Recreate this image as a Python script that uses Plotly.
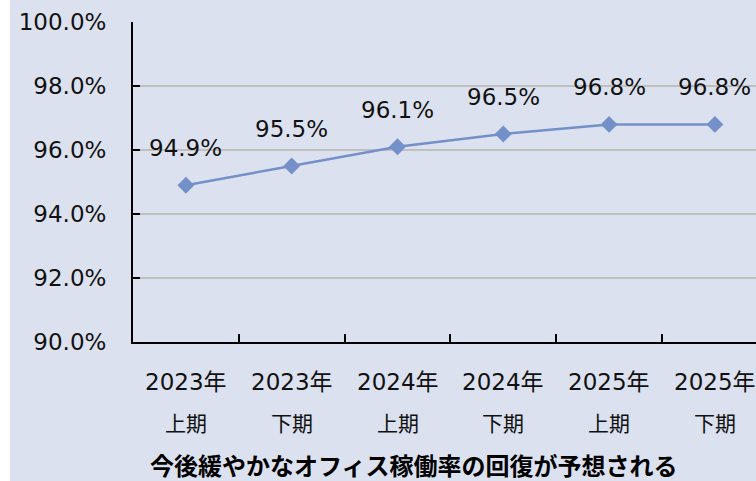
import plotly.graph_objects as go

# ---- data ----
years = ["2023年", "2023年", "2024年", "2024年", "2025年", "2025年"]
halves = ["上期", "下期", "上期", "下期", "上期", "下期"]
categories = [f"{y}{h}" for y, h in zip(years, halves)]
occupancy = [94.9, 95.5, 96.1, 96.5, 96.8, 96.8]
y_ticks = [90, 92, 94, 96, 98, 100]
caption = "今後緩やかなオフィス稼働率の回復が予想される"

# ---- style ----
W, H = 756, 481
ML, MR, MT, MB = 133, 0, 22, 139
PW = W - ML - MR
PH = H - MT - MB
CAT_W = 105.8
BG = "#DCE1F0"
LINE = "#7390C9"
LAT = "DejaVu Sans, Verdana, sans-serif"
JP = "DejaVu Sans, Noto Sans CJK JP, sans-serif"
NUM_SIZE = 23

fig = go.Figure()
fig.add_trace(go.Scatter(
    x=categories, y=occupancy, mode="lines+markers",
    line=dict(color=LINE, width=2.5),
    marker=dict(symbol="diamond", size=13, color=LINE),
    hoverinfo="skip", showlegend=False, cliponaxis=False,
))

annotations = []
for c, v in zip(categories, occupancy):
    annotations.append(dict(x=c, y=v, xref="x", yref="y", text=f"{v:.1f}%",
                            showarrow=False, yshift=37,
                            font=dict(family=LAT, size=NUM_SIZE, color="#111111")))
for c, yr, hf in zip(categories, years, halves):
    annotations.append(dict(x=c, y=0, xref="x", yref="paper", text=yr,
                            showarrow=False, yshift=-40, yanchor="middle",
                            font=dict(family=JP, size=NUM_SIZE, color="#111111")))
    annotations.append(dict(x=c, y=0, xref="x", yref="paper", text=hf,
                            showarrow=False, yshift=-80, yanchor="middle",
                            font=dict(family="Noto Sans CJK JP, sans-serif", size=21, color="#111111")))
annotations.append(dict(x=(414 - ML) / PW, y=0, xref="paper", yref="paper",
                        text=f"<b>{caption}</b>", showarrow=False, yshift=-122,
                        yanchor="middle", borderpad=0,
                        font=dict(family="Noto Sans CJK JP, sans-serif", size=24, color="#000000")))

fig.update_layout(
    width=W, height=H,
    margin=dict(l=ML, r=MR, t=MT, b=MB),
    paper_bgcolor=BG, plot_bgcolor=BG,
    annotations=annotations,
    shapes=[dict(type="rect", xref="paper", yref="paper",
                 x0=-ML / PW, x1=-(ML - 10) / PW,
                 y0=-(MB + 5) / PH, y1=1 + (MT + 5) / PH,
                 fillcolor="white", line=dict(width=0), layer="above")],
    xaxis=dict(
        type="category", range=[-0.5, -0.5 + PW / CAT_W],
        showticklabels=False, showgrid=False, zeroline=False,
        tickson="boundaries", ticks="inside", ticklen=8, tickwidth=2, tickcolor="#000000",
        showline=True, linecolor="#000000", linewidth=2,
    ),
    yaxis=dict(
        range=[90, 100], tickvals=y_ticks,
        ticktext=[f"{t:.1f}%" for t in y_ticks],
        showgrid=True, gridcolor="#BFBFBF", gridwidth=1.5, zeroline=False,
        ticks="inside", ticklen=7, tickwidth=2, tickcolor="#000000",
        showline=True, linecolor="#000000", linewidth=2,
        ticklabelstandoff=20,
        tickfont=dict(family=LAT, size=NUM_SIZE, color="#111111"),
    ),
)

fig.write_html("out.html", config={"displayModeBar": False},
               post_script="document.body.style.margin='0';")
